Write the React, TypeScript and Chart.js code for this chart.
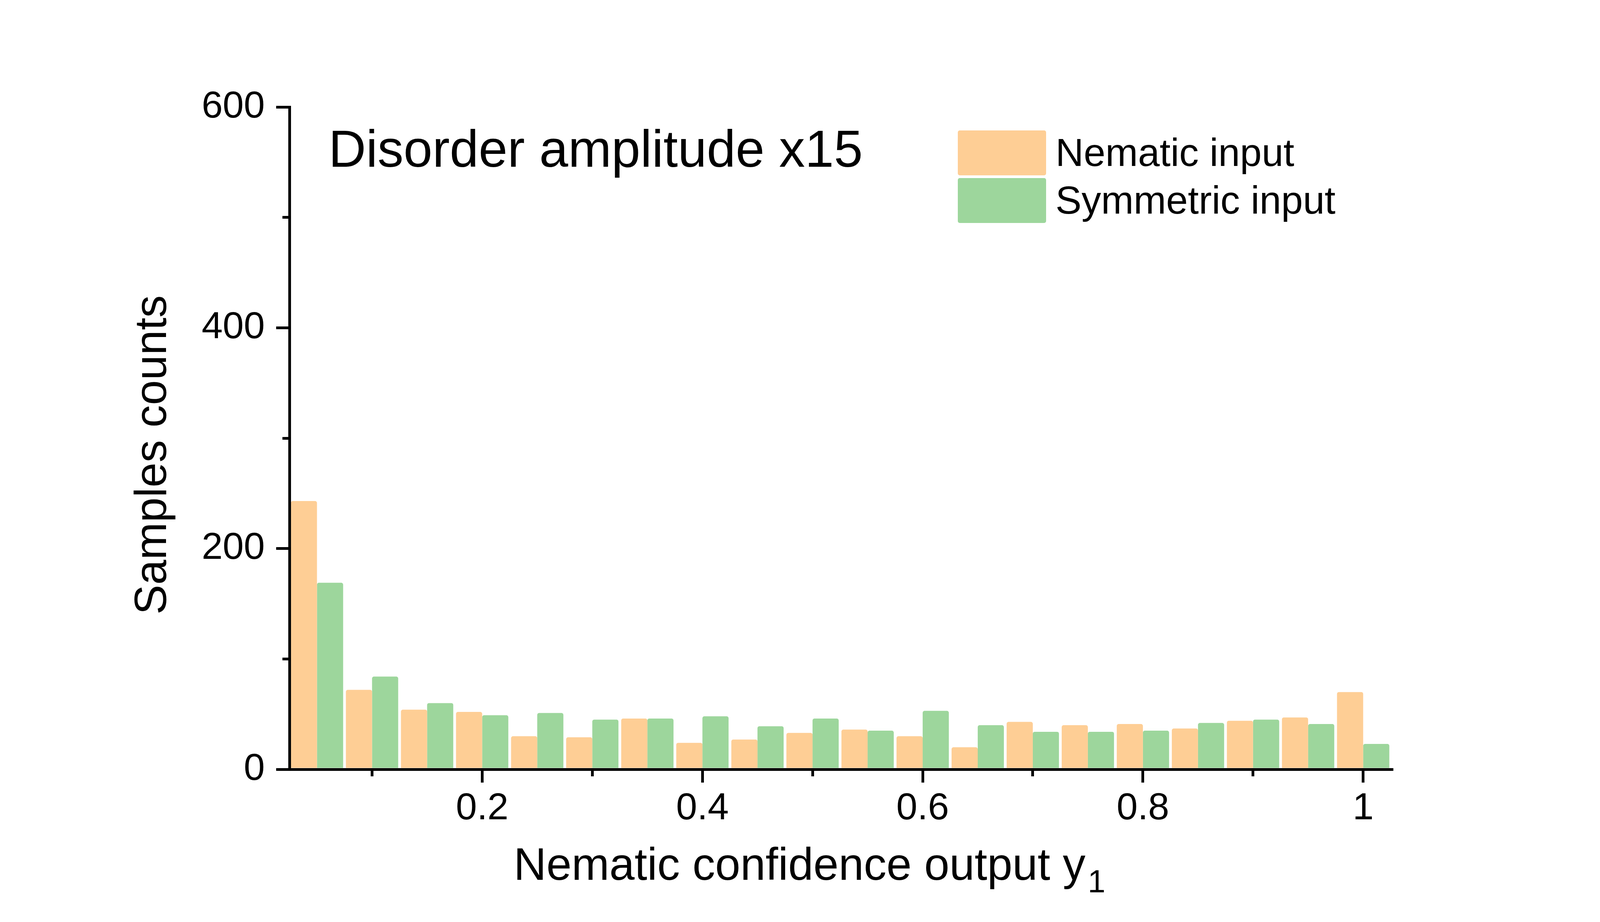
import React, { useEffect, useRef } from "react";
import { Chart, registerables } from "chart.js";

Chart.register(...registerables);

// ---------- data ----------
const binCenters = [0.05, 0.1, 0.15, 0.2, 0.25, 0.3, 0.35, 0.4, 0.45, 0.5, 0.55, 0.6, 0.65, 0.7, 0.75, 0.8, 0.85, 0.9, 0.95, 1.0];
const nematicCounts = [243, 72, 54, 52, 30, 29, 46, 24, 27, 33, 36, 30, 20, 43, 40, 41, 37, 44, 47, 70];
const symmetricCounts = [169, 84, 60, 49, 51, 45, 46, 48, 39, 46, 35, 53, 40, 34, 34, 35, 42, 45, 41, 23];

const xMajorTicks = [0.2, 0.4, 0.6, 0.8, 1.0];
const xMinorTicks = [0.1, 0.3, 0.5, 0.7, 0.9];
const yMajorTicks = [0, 200, 400, 600];
const yMinorTicks = [100, 300, 500];

const seriesLabels = ["Nematic input", "Symmetric input"];
const seriesColors = ["#FECE95", "#9DD69C"];

const chartTitle = "Disorder amplitude x15";
const xTitleMain = "Nematic confidence output y";
const xTitleSub = "1";
const yTitle = "Samples counts";

const FONT = '"Liberation Sans", Arial, "DejaVu Sans", sans-serif';
const W = 4134;
const H = 2361;

const decorPlugin = {
  id: "decor",
  afterDraw(chart: any) {
    const ctx: CanvasRenderingContext2D = chart.ctx;
    const area = chart.chartArea;
    const xs = chart.scales.x;
    const ys = chart.scales.y;
    ctx.save();

    // axis joins (fill the corners of the axis lines)
    const axisX = Math.round(area.left - 3.5) + 3.5;
    const axisY = Math.round(area.bottom - 3.5) + 3.5;
    const topY = Math.round(ys.getPixelForValue(yMajorTicks[yMajorTicks.length - 1]) - 3.5) + 3.5;
    ctx.fillStyle = "#000";
    ctx.fillRect(axisX - 3.5, topY - 3.5, 7, axisY + 3.5 - (topY - 3.5));

    // minor ticks
    ctx.strokeStyle = "#000";
    ctx.lineWidth = 7;
    ctx.lineCap = "butt";
    for (const v of yMinorTicks) {
      const py = Math.round(ys.getPixelForValue(v) - 3.5) + 3.5;
      ctx.beginPath();
      ctx.moveTo(axisX - 3.5, py);
      ctx.lineTo(axisX - 3.5 - 15, py);
      ctx.stroke();
    }
    for (const v of xMinorTicks) {
      const px = Math.round(xs.getPixelForValue(v) - 3.5) + 3.5;
      ctx.beginPath();
      ctx.moveTo(px, axisY + 3.5);
      ctx.lineTo(px, axisY + 3.5 + 14);
      ctx.stroke();
    }

    // title
    ctx.fillStyle = "#000";
    ctx.textAlign = "left";
    ctx.textBaseline = "alphabetic";
    ctx.font = `133px ${FONT}`;
    ctx.fillText(chartTitle, 841, 427);

    // legend
    const ds = chart.data.datasets;
    for (let i = 0; i < ds.length; i++) {
      const top = 334 + i * 122;
      ctx.fillStyle = ds[i].backgroundColor;
      ctx.beginPath();
      if ((ctx as any).roundRect) {
        (ctx as any).roundRect(2452, top, 226, 115, 5);
      } else {
        ctx.rect(2452, top, 226, 115);
      }
      ctx.fill();
      ctx.fillStyle = "#000";
      ctx.font = `100px ${FONT}`;
      ctx.fillText(ds[i].label, 2702, 425 + i * 122);
    }

    // x axis title with subscript
    ctx.font = `116px ${FONT}`;
    ctx.fillText(xTitleMain, 1315, 2253);
    const mw = ctx.measureText(xTitleMain).width;
    ctx.font = `81px ${FONT}`;
    ctx.fillText(xTitleSub, 1315 + mw + 6, 2285);

    // y axis title
    ctx.save();
    ctx.translate(425, 1165);
    ctx.rotate(-Math.PI / 2);
    ctx.font = `115px ${FONT}`;
    ctx.textAlign = "center";
    ctx.fillText(yTitle, 0, 0);
    ctx.restore();

    ctx.restore();
  },
};

export default function App() {
  const canvasRef = useRef<HTMLCanvasElement | null>(null);

  useEffect(() => {
    document.body.style.margin = "0";
    document.body.style.overflow = "hidden";
    const canvas = canvasRef.current;
    if (!canvas) return;

    const tickFont = { family: FONT, size: 97 };

    const chart = new Chart(canvas, {
      type: "bar",
      data: {
        datasets: [
          {
            label: seriesLabels[0],
            data: binCenters.map((x, i) => ({ x, y: nematicCounts[i] })),
            backgroundColor: seriesColors[0],
            borderWidth: 0,
            borderRadius: 5,
          },
          {
            label: seriesLabels[1],
            data: binCenters.map((x, i) => ({ x, y: symmetricCounts[i] })),
            backgroundColor: seriesColors[1],
            borderWidth: 0,
            borderRadius: 5,
          },
        ],
      },
      plugins: [decorPlugin],
      options: {
        animation: false,
        responsive: false,
        maintainAspectRatio: false,
        devicePixelRatio: 1,
        categoryPercentage: 0.95,
        barPercentage: 1.0,
        layout: { padding: { top: 274, right: 571, bottom: 0, left: 0 } },
        plugins: {
          legend: { display: false },
          title: { display: false },
          tooltip: { enabled: false },
        },
        scales: {
          x: {
            type: "linear",
            min: 0.025,
            max: 1.026,
            bounds: "data",
            offset: false,
            afterFit: (s: any) => {
              s.height = 391;
            },
            afterBuildTicks: (s: any) => {
              s.ticks = xMajorTicks.map((v) => ({ value: v }));
            },
            grid: {
              offset: false,
              display: true,
              drawOnChartArea: false,
              drawTicks: true,
              tickLength: 34,
              tickWidth: 7,
              tickColor: "#000",
              color: "#000",
              lineWidth: 7,
            },
            border: { display: true, color: "#000", width: 7 },
            ticks: {
              color: "#000",
              font: tickFont,
              padding: 9,
              maxRotation: 0,
              autoSkip: false,
              callback: (v: any) => String(v),
            },
          },
          y: {
            type: "linear",
            min: 0,
            max: 600,
            bounds: "data",
            afterFit: (s: any) => {
              s.width = 741;
            },
            afterBuildTicks: (s: any) => {
              s.ticks = yMajorTicks.map((v) => ({ value: v }));
            },
            grid: {
              display: true,
              drawOnChartArea: false,
              drawTicks: true,
              tickLength: 34,
              tickWidth: 7,
              tickColor: "#000",
              color: "#000",
              lineWidth: 7,
            },
            border: { display: true, color: "#000", width: 7 },
            ticks: {
              color: "#000",
              font: tickFont,
              padding: 29,
              autoSkip: false,
              callback: (v: any) => String(v),
            },
          },
        },
      } as any,
    });

    return () => {
      chart.destroy();
    };
  }, []);

  return (
    <div style={{ width: W, height: H, background: "#fff" }}>
      <canvas ref={canvasRef} width={W} height={H} style={{ width: W, height: H, display: "block" }} />
    </div>
  );
}
